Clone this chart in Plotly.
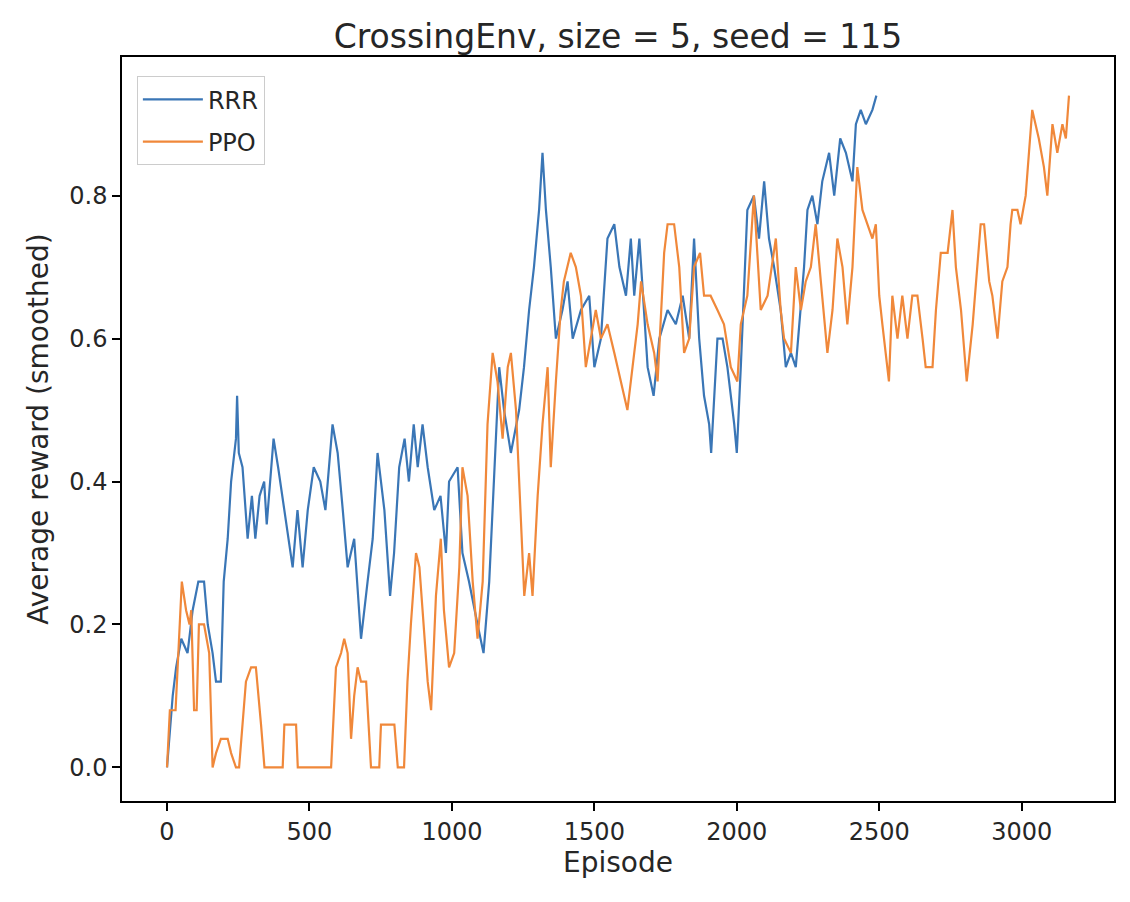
import plotly.graph_objects as go

# values (smoothed reward, steps of 0.02)
rrr_episode = [0, 20, 32, 50, 72, 90, 110, 130, 143, 160, 172, 189, 199, 213, 225, 242, 246, 252,
               265, 283, 298, 310, 325, 341, 350, 374, 390, 411, 441, 458, 476, 494, 515, 538,
               556, 581, 599, 617, 634, 657, 681, 704, 722, 739, 763, 783, 797, 815, 834, 849,
               866, 880, 897, 915, 938, 960, 979, 990, 1020, 1037, 1060, 1090, 1111, 1131,
               1148, 1166, 1183, 1207, 1236, 1253, 1271, 1288, 1306, 1318, 1330, 1347, 1365,
               1388, 1406, 1424, 1453, 1482, 1500, 1523, 1546, 1570, 1588, 1611, 1628, 1640,
               1658, 1687, 1708, 1728, 1757, 1786, 1810, 1833, 1850, 1868, 1885, 1903, 1910,
               1932, 1950, 1967, 1991, 2000, 2014, 2037, 2060, 2078, 2096, 2113, 2131, 2154,
               2172, 2190, 2207, 2219, 2236, 2248, 2265, 2283, 2300, 2324, 2342, 2363, 2383,
               2406, 2418, 2435, 2453, 2476, 2490]
rrr_reward = [0.00, 0.10, 0.14, 0.18, 0.16, 0.22, 0.26, 0.26, 0.20, 0.16, 0.12, 0.12, 0.26, 0.32,
              0.40, 0.46, 0.52, 0.44, 0.42, 0.32, 0.38, 0.32, 0.38, 0.40, 0.34, 0.46, 0.42, 0.36,
              0.28, 0.36, 0.28, 0.36, 0.42, 0.40, 0.36, 0.48, 0.44, 0.36, 0.28, 0.32, 0.18, 0.26,
              0.32, 0.44, 0.36, 0.24, 0.30, 0.42, 0.46, 0.40, 0.48, 0.42, 0.48, 0.42, 0.36, 0.38,
              0.30, 0.40, 0.42, 0.30, 0.26, 0.20, 0.16, 0.26, 0.40, 0.56, 0.50, 0.44, 0.50, 0.56,
              0.64, 0.70, 0.78, 0.86, 0.78, 0.70, 0.60, 0.64, 0.68, 0.60, 0.64, 0.66, 0.56, 0.60,
              0.74, 0.76, 0.70, 0.66, 0.74, 0.66, 0.74, 0.56, 0.52, 0.60, 0.64, 0.62, 0.66, 0.60,
              0.74, 0.60, 0.52, 0.48, 0.44, 0.60, 0.60, 0.56, 0.48, 0.44, 0.56, 0.78, 0.80, 0.74,
              0.82, 0.74, 0.70, 0.64, 0.56, 0.58, 0.56, 0.62, 0.70, 0.78, 0.80, 0.76, 0.82, 0.86,
              0.80, 0.88, 0.86, 0.82, 0.90, 0.92, 0.90, 0.92, 0.94]

ppo_episode = [0, 10, 30, 52, 67, 79, 85, 95, 104, 112, 130, 148, 160, 172, 189, 213, 225, 242,
               253, 277, 295, 312, 330, 342, 406, 412, 453, 459, 576, 593, 611, 622, 634, 646,
               657, 669, 681, 699, 716, 745, 751, 798, 810, 832, 844, 856, 874, 886, 897, 915,
               927, 944, 961, 972, 990, 1008, 1026, 1037, 1055, 1073, 1090, 1108, 1125, 1143,
               1160, 1178, 1196, 1207, 1225, 1242, 1254, 1271, 1283, 1301, 1318, 1336, 1347,
               1365, 1382, 1393, 1417, 1435, 1453, 1470, 1488, 1505, 1523, 1546, 1570, 1593,
               1616, 1634, 1652, 1664, 1687, 1710, 1722, 1745, 1757, 1780, 1798, 1815, 1833,
               1850, 1871, 1885, 1908, 1932, 1955, 1979, 2002, 2014, 2037, 2060, 2084, 2108,
               2137, 2154, 2166, 2190, 2207, 2225, 2242, 2260, 2277, 2295, 2318, 2336, 2353,
               2371, 2388, 2406, 2423, 2441, 2458, 2476, 2488, 2500, 2511, 2523, 2534, 2546,
               2564, 2581, 2599, 2616, 2634, 2652, 2663, 2687, 2699, 2716, 2740, 2757, 2769,
               2787, 2807, 2828, 2856, 2868, 2886, 2897, 2915, 2932, 2950, 2961, 2967, 2985,
               2996, 3014, 3037, 3060, 3078, 3090, 3108, 3125, 3143, 3155, 3166]
ppo_reward = [0.00, 0.08, 0.08, 0.26, 0.22, 0.20, 0.22, 0.08, 0.08, 0.20, 0.20, 0.16, 0.00, 0.02,
              0.04, 0.04, 0.02, 0.00, 0.00, 0.12, 0.14, 0.14, 0.06, 0.00, 0.00, 0.06, 0.06, 0.00,
              0.00, 0.14, 0.16, 0.18, 0.16, 0.04, 0.10, 0.14, 0.12, 0.12, 0.00, 0.00, 0.06, 0.06,
              0.00, 0.00, 0.12, 0.20, 0.30, 0.28, 0.22, 0.12, 0.08, 0.24, 0.32, 0.22, 0.14, 0.16,
              0.28, 0.42, 0.38, 0.26, 0.18, 0.26, 0.48, 0.58, 0.54, 0.46, 0.56, 0.58, 0.50, 0.34,
              0.24, 0.30, 0.24, 0.38, 0.48, 0.56, 0.42, 0.54, 0.64, 0.68, 0.72, 0.70, 0.66, 0.56,
              0.60, 0.64, 0.60, 0.62, 0.58, 0.54, 0.50, 0.56, 0.62, 0.68, 0.62, 0.58, 0.54, 0.72,
              0.76, 0.76, 0.70, 0.58, 0.60, 0.70, 0.72, 0.66, 0.66, 0.64, 0.62, 0.56, 0.54, 0.62,
              0.66, 0.80, 0.64, 0.66, 0.74, 0.64, 0.60, 0.58, 0.70, 0.64, 0.68, 0.70, 0.76, 0.68,
              0.58, 0.64, 0.74, 0.70, 0.62, 0.70, 0.84, 0.78, 0.76, 0.74, 0.76, 0.66, 0.62, 0.58,
              0.54, 0.66, 0.60, 0.66, 0.60, 0.66, 0.66, 0.60, 0.56, 0.56, 0.64, 0.72, 0.72, 0.78,
              0.70, 0.64, 0.54, 0.62, 0.76, 0.76, 0.68, 0.66, 0.60, 0.68, 0.70, 0.76, 0.78, 0.78,
              0.76, 0.80, 0.92, 0.88, 0.84, 0.80, 0.90, 0.86, 0.90, 0.88, 0.94]

x_ticks = [0, 500, 1000, 1500, 2000, 2500, 3000]
y_ticks = [0.0, 0.2, 0.4, 0.6, 0.8]

fig = go.Figure()
fig.add_trace(go.Scatter(x=rrr_episode, y=rrr_reward, mode="lines", name="RRR", legendgroup="rrr",
                         line=dict(color="#3a76b6", width=2.2)))
fig.add_trace(go.Scatter(x=ppo_episode, y=ppo_reward, mode="lines", name="PPO", legendgroup="ppo",
                         line=dict(color="#f0883a", width=2.2)))

axis_style = dict(showline=True, mirror=True, linecolor="black", linewidth=1.5,
                  ticks="outside", ticklen=8, tickwidth=1.5, tickcolor="black",
                  showgrid=False, zeroline=False, tickfont=dict(size=24, color="#262626"))

fig.update_layout(
    width=1130, height=902,
    paper_bgcolor="white", plot_bgcolor="white",
    font=dict(family="DejaVu Sans", size=23, color="#262626"),
    margin=dict(l=114, r=24, t=49, b=109),
    title=dict(text="CrossingEnv, size = 5, seed = 115", x=0.5, xref="paper", xanchor="center",
               y=0.968, yanchor="middle", font=dict(size=33, color="#262626")),
    legend=dict(x=0.015, y=0.974, xanchor="left", yanchor="top",
                bgcolor="rgba(255,255,255,0.8)", bordercolor="#cccccc", borderwidth=1,
                font=dict(size=24), tracegroupgap=8, itemwidth=60),
    showlegend=True,
)
fig.update_xaxes(title=dict(text="Episode", standoff=6), tickvals=x_ticks,
                 range=[-158, 3324], **axis_style)
fig.update_yaxes(title=dict(text="Average reward (smoothed)", standoff=12), tickvals=y_ticks,
                 tickformat=".1f", range=[-0.047, 0.994], **axis_style)

fig.write_html("out.html")
